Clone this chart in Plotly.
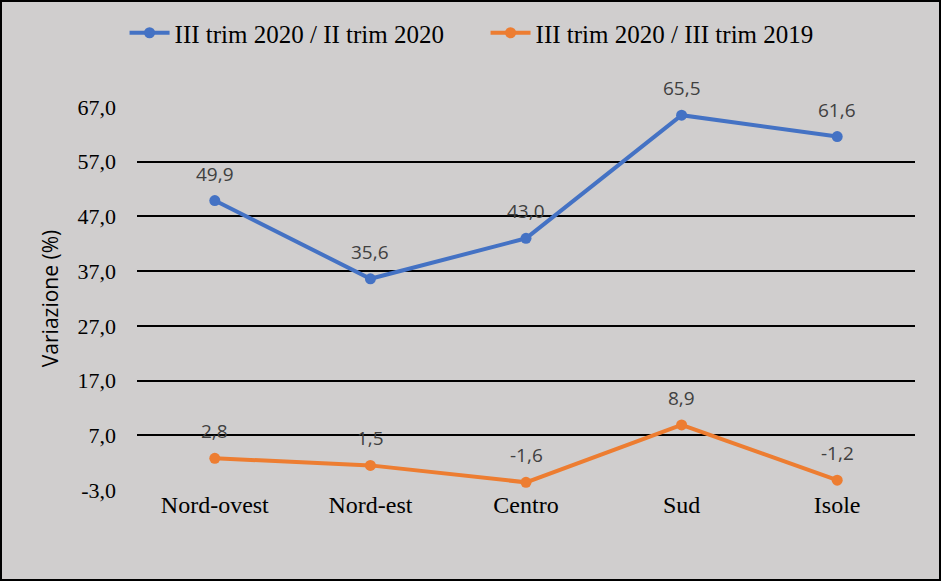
import plotly.graph_objects as go

categories = ["Nord-ovest", "Nord-est", "Centro", "Sud", "Isole"]
series_names = ["III trim 2020 / II trim 2020", "III trim 2020 / III trim 2019"]
q_on_q = [49.9, 35.6, 43.0, 65.5, 61.6]
y_on_y = [2.8, 1.5, -1.6, 8.9, -1.2]
y_ticks = [-3, 7, 17, 27, 37, 47, 57, 67]
y_tick_labels = ["-3,0", "7,0", "17,0", "27,0", "37,0", "47,0", "57,0", "67,0"]

colors = ["#4472c4", "#ed7d31"]
W, H = 941, 581
L, R, T, B = 137, 26, 107, 91
SERIF = "Liberation Serif, Times New Roman, serif"
SANS = "Open Sans, Liberation Sans, sans-serif"

def fmt(v):
    return f"{v:.1f}".replace(".", ",")

fig = go.Figure()
for name, vals, col in zip(series_names, [q_on_q, y_on_y], colors):
    fig.add_trace(go.Scatter(
        x=categories, y=vals, name=name, mode="lines+markers",
        line=dict(color=col, width=4),
        marker=dict(color=col, size=11),
        hoverinfo="skip",
    ))

annotations = []
for vals in [q_on_q, y_on_y]:
    for c, v in zip(categories, vals):
        annotations.append(dict(
            x=c, y=v, xref="x", yref="y", text=fmt(v), showarrow=False,
            yshift=27, yanchor="middle",
            font=dict(family=SANS, size=19, color="#404040"),
        ))

pw = W - L - R
ph = H - T - B
fig.add_shape(type="rect", xref="paper", yref="paper",
              x0=(1 - L) / pw, x1=(W - 1 - L) / pw,
              y0=(H - B - (H - 1)) / ph, y1=(H - B - 1) / ph,
              line=dict(color="black", width=2), fillcolor="rgba(0,0,0,0)", layer="above")

fig.update_layout(
    width=W, height=H,
    margin=dict(l=L, r=R, t=T, b=B),
    paper_bgcolor="#d0cece", plot_bgcolor="#d0cece",
    annotations=annotations,
    showlegend=True,
    legend=dict(orientation="h", xref="container", yref="container",
                x=0.516, y=1 - 33 / H, xanchor="center", yanchor="middle",
                font=dict(family=SERIF, size=25, color="black"),
                bgcolor="rgba(0,0,0,0)", itemwidth=40, tracegroupgap=0,
                entrywidth=306, entrywidthmode="pixels"),
    xaxis=dict(range=[-0.5, 4.5], showgrid=False, zeroline=False, showline=False,
               tickfont=dict(family=SERIF, size=24, color="black"),
               ticks="", ticklabelstandoff=-2, fixedrange=True),
    yaxis=dict(range=[-3, 67], tickvals=y_ticks, ticktext=y_tick_labels,
               showgrid=True, gridcolor="black", gridwidth=2, zeroline=False, showline=False,
               tickfont=dict(family=SERIF, size=22, color="black"),
               ticks="", ticklabelstandoff=20,
               title=dict(text="Variazione (%)", standoff=13,
                          font=dict(family=SANS, size=21, color="black")),
               fixedrange=True),
)

fig.write_html("out.html", config={"displayModeBar": False},
               post_script="document.body.style.margin='0';document.body.style.overflow='hidden';")
